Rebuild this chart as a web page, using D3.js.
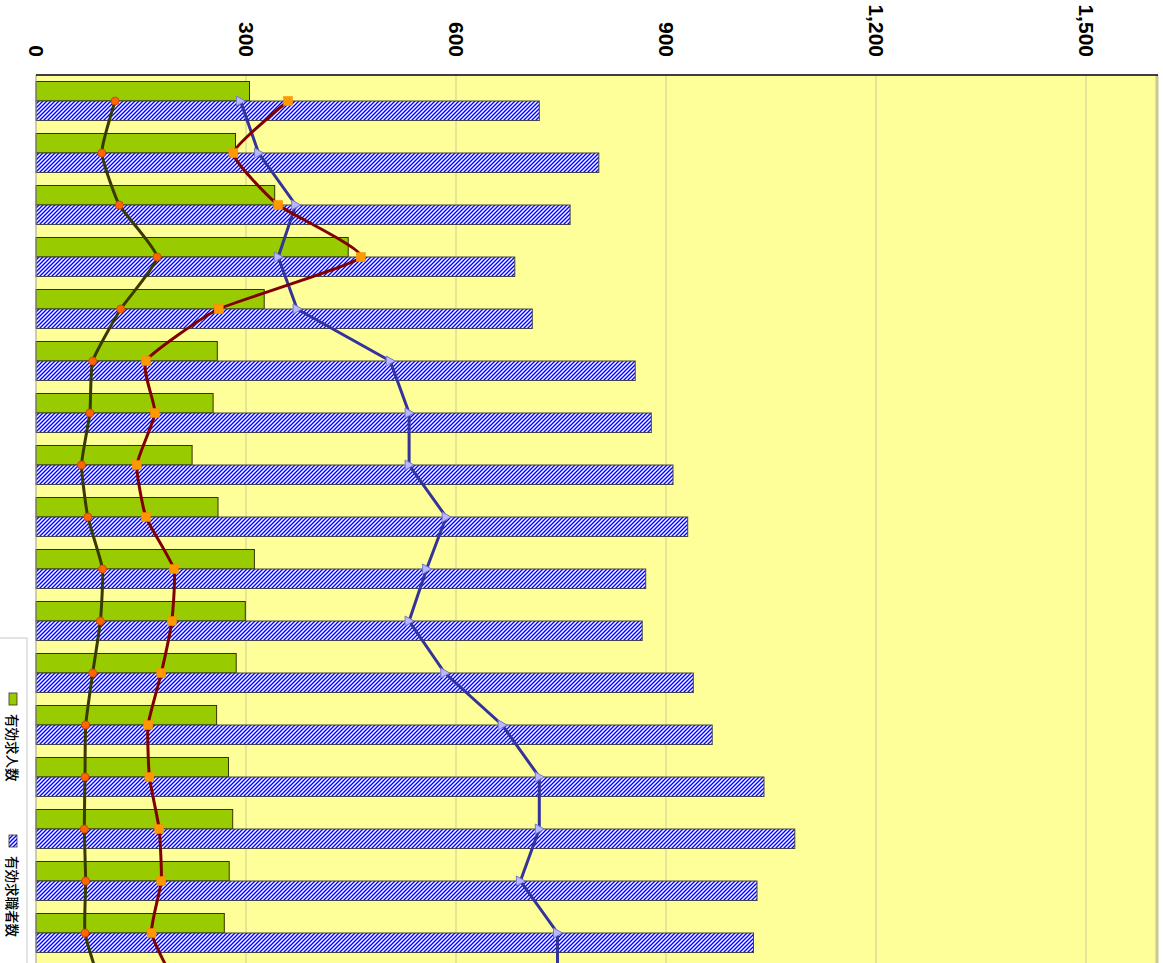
<!DOCTYPE html>
<html>
<head>
<meta charset="utf-8">
<script src="https://cdn.jsdelivr.net/npm/d3@7"></script>
<style>
    html, body { margin: 0; padding: 0; background: #fff; overflow: hidden; }
    svg { display: block; }
</style>
</head>
<body>
<div id="chart"></div>
<script>
// categories (months, labels are cut off in the picture)
var months = ["1", "2", "3", "4", "5", "6", "7", "8", "9", "10", "11", "12", "13", "14", "15", "16", "17", "18"];
// bars
var offers = [305, 285, 341, 446, 326, 259, 253, 223, 260, 312, 299, 286, 258, 275, 281, 276, 269, 275];
var seekers = [719, 804, 763, 684, 709, 856, 879, 910, 931, 871, 866, 939, 966, 1040, 1084, 1030, 1025, 1000];
// lines
var lineOlive = [113, 94, 119, 173, 121, 81, 77, 65, 74, 95, 92, 81, 71, 70, 69, 71, 70, 92];
var lineRed = [360, 282, 346, 464, 261, 157, 170, 144, 157, 197, 194, 179, 160, 162, 176, 179, 165, 200];
var lineBlue = [292, 318, 371, 346, 373, 506, 533, 533, 586, 558, 533, 584, 666, 719, 719, 692, 745, 745];
var ticks = [0, 300, 600, 900, 1200, 1500];
var legendNames = ["有効求人数", "有効求職者数"];

var W = 1163, H = 963;
var plotLeft = 36, plotRight = 1156, plotTop = 75;
var step = 52;

var svg = d3.select('#chart').append('svg')
    .attr('width', W)
    .attr('height', H);

var defs = svg.append('defs');
var hatch = defs.append('pattern')
    .attr('id', 'hatch')
    .attr('patternUnits', 'userSpaceOnUse')
    .attr('width', 4)
    .attr('height', 4);
hatch.append('rect').attr('width', 4).attr('height', 4).attr('fill', '#fff');
hatch.append('path')
    .attr('d', 'M-1,1 L1,-1 M0,4 L4,0 M3,5 L5,3')
    .attr('stroke', '#0000ff')
    .attr('stroke-width', 1.4);

var x = d3.scaleLinear().domain([0, 1600]).range([plotLeft, plotRight]);
var y = d3.scaleBand()
    .domain(months)
    .range([plotTop, plotTop + months.length * step])
    .paddingInner(0.25)
    .paddingOuter(0.125);
var half = y.bandwidth() / 2;
var mid = function (d) { return y(d) + half; };

// plot area
svg.append('rect')
    .attr('x', plotLeft).attr('y', plotTop)
    .attr('width', plotRight - plotLeft).attr('height', H - plotTop)
    .attr('fill', '#ffff99');

svg.append('g').selectAll('line')
    .data(ticks.slice(1))
    .enter().append('line')
    .attr('x1', function (d) { return x(d); })
    .attr('x2', function (d) { return x(d); })
    .attr('y1', plotTop).attr('y2', H)
    .attr('stroke', '#cccc99')
    .attr('stroke-width', 1);

svg.append('line')
    .attr('x1', plotRight + 1).attr('x2', plotRight + 1)
    .attr('y1', plotTop).attr('y2', H)
    .attr('stroke', '#c8c890').attr('stroke-width', 3);

// bars
svg.append('g').selectAll('rect')
    .data(months)
    .enter().append('rect')
    .attr('x', x(0))
    .attr('y', function (d) { return y(d); })
    .attr('width', function (d, i) { return x(offers[i]) - x(0); })
    .attr('height', half)
    .attr('fill', '#99cc00')
    .attr('stroke', '#333300')
    .attr('stroke-width', 1);

svg.append('g').selectAll('rect')
    .data(months)
    .enter().append('rect')
    .attr('x', x(0))
    .attr('y', function (d) { return mid(d); })
    .attr('width', function (d, i) { return x(seekers[i]) - x(0); })
    .attr('height', half)
    .attr('fill', 'url(#hatch)')
    .attr('stroke', '#444')
    .attr('stroke-width', 1);

// axis frame
svg.append('line')
    .attr('x1', plotLeft).attr('x2', plotLeft)
    .attr('y1', plotTop).attr('y2', H)
    .attr('stroke', '#999').attr('stroke-width', 1);
svg.append('line')
    .attr('x1', plotLeft).attr('x2', plotRight + 2)
    .attr('y1', plotTop).attr('y2', plotTop)
    .attr('stroke', '#000').attr('stroke-width', 1.5);

// lines
function drawLine(vals, color, curve) {
    var line = d3.line()
        .x(function (d) { return x(d); })
        .y(function (d, i) { return mid(months[i]); })
        .curve(curve);
    svg.append('path')
        .datum(vals)
        .attr('d', line)
        .attr('fill', 'none')
        .attr('stroke', color)
        .attr('stroke-width', 3);
}

var smooth = d3.curveCardinal.tension(0.55);

drawLine(lineBlue, '#333399', d3.curveLinear);
svg.append('g').selectAll('path')
    .data(lineBlue)
    .enter().append('path')
    .attr('transform', function (d, i) { return 'translate(' + x(d) + ',' + mid(months[i]) + ')'; })
    .attr('d', 'M-4,-5 L5,0 L-4,5 Z')
    .attr('fill', '#b8b8ff')
    .attr('stroke', '#7777cc')
    .attr('stroke-width', 1);

drawLine(lineOlive, '#3a3a00', smooth);
svg.append('g').selectAll('circle')
    .data(lineOlive)
    .enter().append('circle')
    .attr('cx', function (d) { return x(d); })
    .attr('cy', function (d, i) { return mid(months[i]); })
    .attr('r', 4)
    .attr('fill', '#ff6600')
    .attr('stroke', '#cc4400')
    .attr('stroke-width', 0.8);

drawLine(lineRed, '#800000', smooth);
svg.append('g').selectAll('rect')
    .data(lineRed)
    .enter().append('rect')
    .attr('x', function (d) { return x(d) - 4.5; })
    .attr('y', function (d, i) { return mid(months[i]) - 4.5; })
    .attr('width', 9).attr('height', 9)
    .attr('fill', '#ff9900')
    .attr('stroke', '#ff8800')
    .attr('stroke-width', 0.5);

// tick labels, rotated
svg.append('g').selectAll('text')
    .data(ticks)
    .enter().append('text')
    .attr('transform', function (d) { return 'translate(' + x(d) + ',57) rotate(90)'; })
    .attr('text-anchor', 'end')
    .attr('dominant-baseline', 'central')
    .attr('font-family', '"Liberation Sans", Arial, sans-serif')
    .attr('font-weight', 'bold')
    .attr('font-size', 21)
    .text(d3.format(','));

// legend
var legend = svg.append('g');
legend.append('rect')
    .attr('x', -1).attr('y', 638)
    .attr('width', 28).attr('height', H)
    .attr('fill', '#fff')
    .attr('stroke', '#c8c8c8');

var legendY = [693, 835];
var legendFill = ['#99cc00', 'url(#hatch)'];
legend.selectAll('rect.sw')
    .data(legendNames)
    .enter().append('rect')
    .attr('class', 'sw')
    .attr('x', 9).attr('y', function (d, i) { return legendY[i]; })
    .attr('width', 8).attr('height', 12)
    .attr('fill', function (d, i) { return legendFill[i]; })
    .attr('stroke', '#333').attr('stroke-width', 0.8);

legend.selectAll('text')
    .data(legendNames)
    .enter().append('text')
    .attr('transform', function (d, i) { return 'translate(13,' + (legendY[i] + 21) + ') rotate(90)'; })
    .attr('dominant-baseline', 'central')
    .attr('font-family', '"Noto Sans CJK JP", sans-serif')
    .attr('font-weight', 500)
    .attr('font-size', 13.5)
    .attr('fill', '#000')
    .text(function (d) { return d; });
</script>
</body>
</html>
